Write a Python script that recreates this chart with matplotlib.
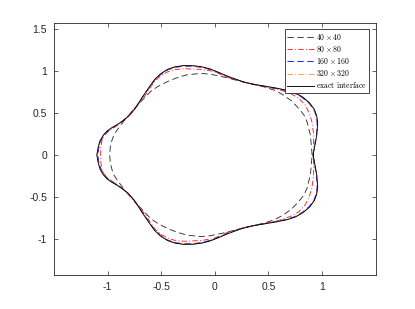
import numpy as np
import matplotlib
matplotlib.use("Agg")
import matplotlib.pyplot as plt

plt.rcParams['mathtext.fontset'] = 'cm'
plt.rcParams['font.family'] = ['Liberation Sans', 'DejaVu Sans']

# curves: upper branch (right -> left), lower branch (left -> right)
exact_x_top = [0.917, 0.935, 0.952, 0.960, 0.950, 0.930, 0.885, 0.820, 0.750, 0.674, 0.560, 0.456, 0.350,
               0.270, 0.190, 0.115, 0.035, -0.045, -0.120, -0.200, -0.290, -0.370, -0.440, -0.507, -0.560,
               -0.600, -0.640, -0.680, -0.720, -0.757, -0.810, -0.865, -0.915, -0.960, -1.005, -1.040,
               -1.070, -1.088, -1.100]
exact_y_top = [0.000, 0.120, 0.240, 0.380, 0.470, 0.540, 0.620, 0.690, 0.740, 0.771, 0.800, 0.822, 0.845,
               0.870, 0.905, 0.941, 0.985, 1.025, 1.050, 1.063, 1.065, 1.050, 1.020, 0.965, 0.900,
               0.830, 0.755, 0.680, 0.600, 0.530, 0.455, 0.400, 0.358, 0.325, 0.285, 0.235,
               0.170, 0.090, 0.000]
exact_x_bot = [-1.100, -1.088, -1.070, -1.040, -1.005, -0.960, -0.915, -0.865, -0.810, -0.757, -0.720, -0.680,
               -0.640, -0.600, -0.560, -0.507, -0.440, -0.370, -0.290, -0.200, -0.120, -0.045, 0.035,
               0.115, 0.190, 0.270, 0.350, 0.456, 0.560, 0.674, 0.750, 0.820, 0.885, 0.930, 0.950,
               0.960, 0.952, 0.935, 0.917]
exact_y_bot = [0.000, -0.090, -0.170, -0.235, -0.285, -0.325, -0.358, -0.400, -0.455, -0.530, -0.600, -0.680,
               -0.755, -0.830, -0.900, -0.965, -1.020, -1.050, -1.065, -1.063, -1.050, -1.025, -0.985,
               -0.941, -0.905, -0.870, -0.845, -0.822, -0.800, -0.771, -0.740, -0.690, -0.620, -0.540, -0.470,
               -0.380, -0.240, -0.120, 0.000]

n40_x_top = [0.908, 0.900, 0.892, 0.861, 0.830, 0.783, 0.720, 0.643, 0.560, 0.456, 0.350, 0.230, 0.115,
             -0.041, -0.130, -0.258, -0.340, -0.414, -0.480, -0.538, -0.590, -0.632, -0.700, -0.757,
             -0.815, -0.865, -0.911, -0.940, -0.958, -0.975, -0.980]
n40_y_top = [0.000, 0.120, 0.237, 0.395, 0.480, 0.554, 0.640, 0.712, 0.770, 0.812, 0.845, 0.880, 0.920,
             0.962, 0.972, 0.955, 0.925, 0.890, 0.850, 0.810, 0.765, 0.712, 0.620, 0.534,
             0.455, 0.376, 0.297, 0.240, 0.178, 0.090, 0.000]
n40_x_bot = [-0.980, -0.975, -0.958, -0.940, -0.911, -0.865, -0.815, -0.757, -0.700, -0.632, -0.590, -0.538,
             -0.480, -0.414, -0.340, -0.258, -0.130, -0.041, 0.115, 0.230, 0.350, 0.456, 0.560, 0.643,
             0.720, 0.783, 0.830, 0.861, 0.892, 0.900, 0.908]
n40_y_bot = [0.000, -0.090, -0.178, -0.240, -0.297, -0.376, -0.455, -0.534, -0.620, -0.712, -0.765, -0.810,
             -0.850, -0.890, -0.925, -0.955, -0.972, -0.962, -0.920, -0.880, -0.845, -0.812, -0.770, -0.712,
             -0.640, -0.554, -0.480, -0.395, -0.237, -0.120, 0.000]

n80_x_top = [0.920, 0.922, 0.922, 0.905, 0.880, 0.845, 0.780, 0.705, 0.600, 0.456, 0.300, 0.115, -0.010,
             -0.134, -0.290, -0.380, -0.445, -0.500, -0.554, -0.600, -0.647, -0.700, -0.757, -0.810,
             -0.865, -0.930, -0.989, -1.030, -1.051, -1.062, -1.065]
n80_y_top = [0.000, 0.120, 0.250, 0.400, 0.500, 0.593, 0.680, 0.732, 0.780, 0.818, 0.860, 0.925, 0.996,
             1.020, 1.028, 1.015, 0.988, 0.945, 0.890, 0.805, 0.712, 0.625, 0.546, 0.465,
             0.395, 0.335, 0.285, 0.235, 0.178, 0.090, 0.000]
n80_x_bot = [-1.065, -1.062, -1.051, -1.030, -0.989, -0.930, -0.865, -0.810, -0.757, -0.700, -0.647, -0.600,
             -0.554, -0.500, -0.445, -0.380, -0.290, -0.134, -0.010, 0.115, 0.300, 0.456, 0.600, 0.705,
             0.780, 0.845, 0.880, 0.905, 0.922, 0.922, 0.920]
n80_y_bot = [0.000, -0.090, -0.178, -0.235, -0.285, -0.335, -0.395, -0.465, -0.546, -0.625, -0.712, -0.805,
             -0.890, -0.945, -0.988, -1.015, -1.028, -1.020, -0.996, -0.925, -0.860, -0.818, -0.780, -0.732,
             -0.680, -0.593, -0.500, -0.400, -0.250, -0.120, 0.000]

n160_x_top = [0.915, 0.932, 0.948, 0.955, 0.945, 0.925, 0.880, 0.815, 0.745, 0.670, 0.556, 0.454, 0.348,
              0.268, 0.188, 0.112, 0.032, -0.046, -0.120, -0.200, -0.290, -0.368, -0.438, -0.503, -0.556,
              -0.597, -0.638, -0.678, -0.718, -0.757, -0.810, -0.865, -0.912, -0.955, -0.998, -1.033,
              -1.062, -1.080, -1.092]
n160_y_top = [0.000, 0.120, 0.240, 0.380, 0.470, 0.538, 0.616, 0.685, 0.735, 0.766, 0.796, 0.820, 0.843,
              0.868, 0.902, 0.938, 0.980, 1.018, 1.043, 1.056, 1.058, 1.044, 1.015, 0.960, 0.897,
              0.828, 0.753, 0.678, 0.600, 0.530, 0.455, 0.398, 0.355, 0.322, 0.282, 0.233,
              0.168, 0.089, 0.000]
n160_x_bot = [-1.092, -1.080, -1.062, -1.033, -0.998, -0.955, -0.912, -0.865, -0.810, -0.757, -0.718, -0.678,
              -0.638, -0.597, -0.556, -0.503, -0.438, -0.368, -0.290, -0.200, -0.120, -0.046, 0.032,
              0.112, 0.188, 0.268, 0.348, 0.454, 0.556, 0.670, 0.745, 0.815, 0.880, 0.925, 0.945,
              0.955, 0.948, 0.932, 0.915]
n160_y_bot = [0.000, -0.089, -0.168, -0.233, -0.282, -0.322, -0.355, -0.398, -0.455, -0.530, -0.600, -0.678,
              -0.753, -0.828, -0.897, -0.960, -1.015, -1.044, -1.058, -1.056, -1.043, -1.018, -0.980,
              -0.938, -0.902, -0.868, -0.843, -0.820, -0.796, -0.766, -0.735, -0.685, -0.616, -0.538, -0.470,
              -0.380, -0.240, -0.120, 0.000]

n320_x_top = [0.916, 0.934, 0.951, 0.959, 0.949, 0.929, 0.884, 0.819, 0.749, 0.673, 0.559, 0.455, 0.349,
              0.269, 0.189, 0.114, 0.034, -0.045, -0.120, -0.200, -0.290, -0.369, -0.439, -0.506, -0.559,
              -0.599, -0.639, -0.679, -0.719, -0.757, -0.810, -0.865, -0.914, -0.959, -1.003, -1.038,
              -1.068, -1.086, -1.098]
n320_y_top = [0.000, 0.120, 0.240, 0.380, 0.470, 0.539, 0.619, 0.689, 0.739, 0.770, 0.799, 0.821, 0.844,
              0.869, 0.904, 0.940, 0.984, 1.024, 1.048, 1.061, 1.063, 1.048, 1.019, 0.964, 0.899,
              0.829, 0.754, 0.679, 0.600, 0.530, 0.455, 0.400, 0.357, 0.324, 0.284, 0.234,
              0.169, 0.090, 0.000]
n320_x_bot = [-1.098, -1.086, -1.068, -1.038, -1.003, -0.959, -0.914, -0.865, -0.810, -0.757, -0.719, -0.679,
              -0.639, -0.599, -0.559, -0.506, -0.439, -0.369, -0.290, -0.200, -0.120, -0.045, 0.034,
              0.114, 0.189, 0.269, 0.349, 0.455, 0.559, 0.673, 0.749, 0.819, 0.884, 0.929, 0.949,
              0.959, 0.951, 0.934, 0.916]
n320_y_bot = [0.000, -0.090, -0.169, -0.234, -0.284, -0.324, -0.357, -0.400, -0.455, -0.530, -0.600, -0.679,
              -0.754, -0.829, -0.899, -0.964, -1.019, -1.048, -1.063, -1.061, -1.048, -1.024, -0.984,
              -0.940, -0.904, -0.869, -0.844, -0.821, -0.799, -0.770, -0.739, -0.689, -0.619, -0.539, -0.470,
              -0.380, -0.240, -0.120, 0.000]

labels = [r'$40\times40$', r'$80\times80$', r'$160\times160$', r'$320\times320$', r'$\mathrm{exact\ interface}$']
x_ticks = [-1, -0.5, 0, 0.5, 1]
x_tick_labels = ['-1', '-0.5', '0', '0.5', '1']
y_ticks = [-1, -0.5, 0, 0.5, 1, 1.5]
y_tick_labels = ['-1', '-0.5', '0', '0.5', '1', '1.5']

fig = plt.figure(figsize=(4.15, 3.09), dpi=100)
ax = fig.add_axes([0.13, 0.11, 0.775, 0.815])

gray = '#262626'
lw = 0.65
series = [
    (n40_x_top + n40_x_bot, n40_y_top + n40_y_bot, '#333333', (0, (7, 4))),
    (n80_x_top + n80_x_bot, n80_y_top + n80_y_bot, '#ff2020', (0, (6, 2.5, 1, 2.5))),
    (n160_x_top + n160_x_bot, n160_y_top + n160_y_bot, '#1010ff', (0, (7, 4))),
    (n320_x_top + n320_x_bot, n320_y_top + n320_y_bot, '#ff9933', (0, (6, 2.5, 1, 2.5))),
    (exact_x_top + exact_x_bot, exact_y_top + exact_y_bot, 'black', '-'),
]
for (xs, ys, c, ls), lab in zip(series, labels):
    ax.plot(xs, ys, color=c, linestyle=ls, linewidth=lw, label=lab)

ax.set_xlim(-1.5, 1.5)
ax.set_ylim(-1.43, 1.57)
ax.set_xticks(x_ticks)
ax.set_xticklabels(x_tick_labels)
ax.set_yticks(y_ticks)
ax.set_yticklabels(y_tick_labels)
ax.tick_params(direction='in', top=True, right=True, length=3, width=0.5,
               colors=gray, labelsize=7.5, pad=5)
for sp in ax.spines.values():
    sp.set_color(gray)
    sp.set_linewidth(0.6)

leg = ax.legend(loc='upper right', fontsize=5.6, handlelength=3.4, handletextpad=0.3,
                borderpad=0.3, labelspacing=0.28, fancybox=False, framealpha=1,
                borderaxespad=0.8)
leg.get_frame().set_edgecolor(gray)
leg.get_frame().set_linewidth(0.6)

fig.savefig('out.png', dpi=100)
